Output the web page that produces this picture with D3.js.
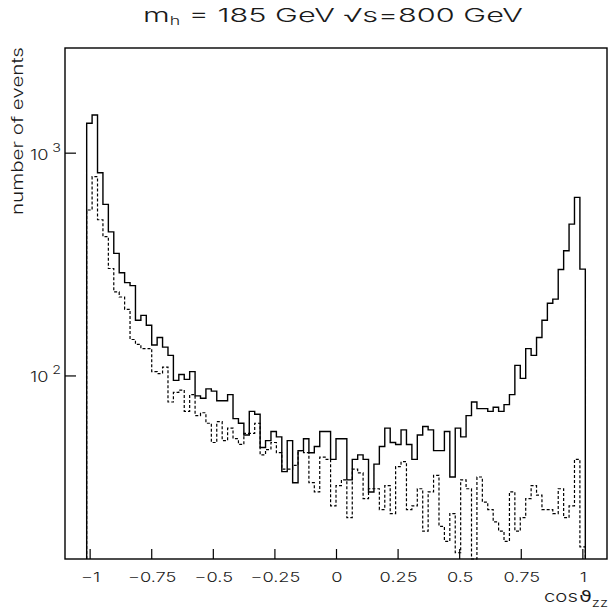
<!DOCTYPE html>
<html>
<head>
<script src="https://cdn.jsdelivr.net/npm/d3@7"></script>
<style>
  body { margin: 0; background: #fff; }
  svg { display: block; font-family: 'Inter', 'DejaVu Sans', sans-serif; font-weight: 300; }
  .lbl { fill: #1a1a1a; }
</style>
</head>
<body>
<svg width="609" height="610"></svg>
<script>
  // histogram binning: 100 bins over [-1.1, 1.1], events only in bins 4..95
  var binLow = -1.1, binHigh = 1.1, nBins = 100, firstBin = 4;

  // solid histogram, bins 4..95
  var solidCounts = [
    1355, 1476, 813, 586, 441, 353, 289, 261, 253, 177,
    186, 168, 137, 148, 134, 123, 95, 101, 96, 104,
    81, 79, 87, 85, 77, 77, 82, 64, 61, 54,
    69, 67, 47.5, 51, 56, 53, 37, 51, 33, 46,
    52, 45, 48, 56, 56, 42, 52, 52, 34, 42,
    44, 42, 30, 40, 48, 58, 50, 49, 57, 49,
    42, 54, 59, 57, 46, 46, 56, 35, 58, 53,
    66, 76, 71, 71, 69, 72, 69, 74, 82, 111,
    97, 132, 123, 148, 177, 211, 220, 299, 363, 478,
    630, 300
  ];

  // dotted histogram, bins 4..95
  var dottedCounts = [
    553, 780, 500, 420, 302, 237, 225, 198, 145, 138,
    132, 132, 104, 102, 109, 76, 84, 86, 69, 82,
    66, 68, 61, 50, 62, 51, 58, 52, 49, 55,
    55, 61, 44, 46.5, 50, 45, 38, 38, 39.5, 46,
    45, 33, 30, 43, 42, 26, 32, 34, 23, 38,
    36.5, 28, 31, 31, 25, 32, 24, 39, 41, 25,
    26, 31, 20, 30, 35.6, 21, 18, 24, 16, 34,
    31, 12, 35, 27, 25, 22, 20, 18, 30, 20,
    23, 28, 32, 29, 25, 25, 24, 31, 23, 26,
    42, 17
  ];

  var xMajorTicks = [-1, -0.75, -0.5, -0.25, 0, 0.25, 0.5, 0.75, 1];
  var xTickLabels = ["\u22121", "\u22120.75", "\u22120.5", "\u22120.25", "0", "0.25", "0.5", "0.75", "1"];
  var yMajorTicks = [100, 1000];
  var yTickExponents = ["2", "3"];
  var yMinorTicks = [20, 30, 40, 50, 60, 70, 80, 90, 200, 300, 400, 500, 600, 700, 800, 900, 2000];

  var svg = d3.select("svg");
  var frameL = 65, frameR = 607, frameT = 48, frameB = 559;

  var x = d3.scaleLinear().domain([binLow, binHigh]).range([frameL, frameR]);
  var y = d3.scaleLog().domain([15, 2950]).range([frameB, frameT]).clamp(true);

  // widen glyphs like the old plotting font
  function stretch(sel, f) {
    sel.each(function () {
      var w = this.getComputedTextLength();
      d3.select(this).attr("textLength", w * f).attr("lengthAdjust", "spacingAndGlyphs");
    });
  }

  // minor x ticks every 0.05
  var xMinorTicks = d3.range(-22, 23).map(function (i) { return i * 0.05; })
    .filter(function (v) { return Math.abs(Math.round(v * 4) - v * 4) > 1e-6; });

  var gx = svg.append("g").attr("transform", "translate(0," + frameB + ")");
  gx.call(d3.axisBottom(x).tickValues(xMinorTicks).tickSize(-5).tickFormat(""));
  gx.call(d3.axisBottom(x).tickValues(xMajorTicks).tickSize(-10).tickFormat(""));
  gx.selectAll(".domain").remove();
  gx.selectAll("line").attr("stroke", "#000").attr("stroke-width", 1.2);

  var gy = svg.append("g").attr("transform", "translate(" + frameL + ",0)");
  gy.call(d3.axisLeft(y).tickValues(yMinorTicks).tickSize(-6).tickFormat(""));
  gy.call(d3.axisLeft(y).tickValues(yMajorTicks).tickSize(-11).tickFormat(""));
  gy.selectAll(".domain").remove();
  gy.selectAll("line").attr("stroke", "#000").attr("stroke-width", 1.2);

  // x tick labels
  var xl = svg.append("g").selectAll("text").data(xMajorTicks).enter().append("text")
    .attr("class", "lbl")
    .attr("x", function (d) { return x(d) + 1; })
    .attr("y", 582)
    .attr("text-anchor", "middle")
    .style("font-size", "13.5px")
    .text(function (d, i) { return xTickLabels[i]; });
  stretch(xl, 1.35);

  // y tick labels 10^n
  var yl = svg.append("g").selectAll("text").data(yMajorTicks).enter().append("text")
    .attr("class", "lbl")
    .attr("x", 30)
    .attr("y", function (d) { return y(d) + 7; })
    .style("font-size", "14px");
  yl.append("tspan").text("10");
  yl.append("tspan").attr("dx", 3).attr("dy", -8).style("font-size", "11px")
    .text(function (d, i) { return yTickExponents[i]; });
  yl.attr("textLength", 31).attr("lengthAdjust", "spacingAndGlyphs");

  // histograms
  function histPath(counts) {
    var w = (binHigh - binLow) / nBins;
    var p = d3.path();
    p.moveTo(x(binLow + firstBin * w), frameB);
    counts.forEach(function (c, i) {
      p.lineTo(x(binLow + (firstBin + i) * w), y(c));
      p.lineTo(x(binLow + (firstBin + i + 1) * w), y(c));
    });
    p.lineTo(x(binLow + (firstBin + counts.length) * w), frameB);
    return p.toString();
  }

  svg.append("path").attr("d", histPath(dottedCounts))
    .attr("fill", "none").attr("stroke", "#000").attr("stroke-width", 1.2)
    .attr("stroke-dasharray", "3,2");
  svg.append("path").attr("d", histPath(solidCounts))
    .attr("fill", "none").attr("stroke", "#000").attr("stroke-width", 1.4);

  // frame
  svg.append("rect").attr("x", frameL).attr("y", frameT)
    .attr("width", frameR - frameL).attr("height", frameB - frameT)
    .attr("fill", "none").attr("stroke", "#000").attr("stroke-width", 1.4);

  // title
  var title = svg.append("text").attr("class", "lbl")
    .attr("x", 143).attr("y", 22)
    .style("font-size", "19px");
  title.append("tspan").text("m");
  title.append("tspan").attr("dy", 3).style("font-size", "11px").text("h");
  title.append("tspan").attr("dy", -3).text(" = 185 GeV  \u221As=800 GeV");
  title.attr("textLength", 380).attr("lengthAdjust", "spacingAndGlyphs");

  // axis titles
  var ylab = svg.append("text").attr("class", "lbl")
    .attr("transform", "translate(23,47) rotate(-90)")
    .attr("text-anchor", "end")
    .style("font-size", "16px")
    .text("number of events");
  ylab.attr("textLength", 168).attr("lengthAdjust", "spacingAndGlyphs");

  var xt = svg.append("text").attr("class", "lbl")
    .attr("x", 544).attr("y", 602)
    .style("font-size", "15px");
  xt.append("tspan").text("cos");
  xt.append("tspan").attr("dx", 1).style("font-family", "'DejaVu Sans', sans-serif")
    .style("font-weight", "normal").text("\u03D1");
  xt.append("tspan").attr("dy", 5).style("font-size", "11px").text("zz");
  xt.attr("textLength", 64).attr("lengthAdjust", "spacingAndGlyphs");
</script>
</body>
</html>
